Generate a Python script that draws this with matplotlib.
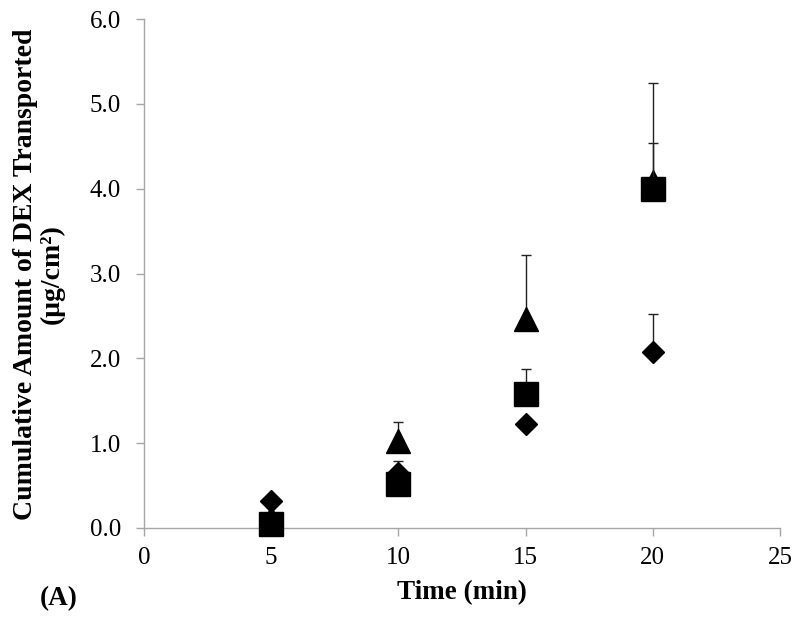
import matplotlib
matplotlib.use("Agg")
import matplotlib.pyplot as plt
import numpy as np

plt.rcParams['font.family'] = ['Liberation Serif', 'DejaVu Serif']

time = [5, 10, 15, 20]
diamond = [0.32, 0.65, 1.23, 2.08]
diamond_err = [0.0, 0.14, 0.0, 0.44]
triangle = [0.12, 1.02, 2.46, 4.08]
triangle_err = [0.0, 0.23, 0.76, 1.16]
square = [0.05, 0.52, 1.58, 4.0]
square_err = [0.0, 0.05, 0.29, 0.54]

xticks = [0, 5, 10, 15, 20, 25]
yticks = [0.0, 1.0, 2.0, 3.0, 4.0, 5.0, 6.0]

fig = plt.figure(figsize=(8, 6.25), dpi=100)
ax = fig.add_axes([0.18, 0.1552, 0.795, 0.8144])

ekw = dict(ls='none', color='black', ecolor='#222222', elinewidth=1.0,
           capsize=3.6, capthick=1.0, clip_on=False)
ax.errorbar(time, diamond, yerr=[np.zeros(4), diamond_err], fmt='D', ms=11.7, zorder=3, **ekw)
ax.errorbar(time, triangle, yerr=[np.zeros(4), triangle_err], fmt='^', ms=16.6, zorder=4, **ekw)
ax.errorbar(time, square, yerr=[np.zeros(4), square_err], fmt='s', ms=16.6, zorder=5, **ekw)

ax.set_xlim(0, 25)
ax.set_ylim(0, 6)
ax.set_xticks(xticks)
ax.set_xticklabels([str(t) for t in xticks])
ax.set_yticks(yticks)
ax.set_yticklabels([f"{v:.1f}" for v in yticks])

for s in ['top', 'right']:
    ax.spines[s].set_visible(False)
for s in ['left', 'bottom']:
    ax.spines[s].set_color('#a6a6a6')
    ax.spines[s].set_linewidth(1.0)
ax.tick_params(axis='both', direction='out', length=6, width=1.0, color='#a6a6a6',
               labelsize=18, labelcolor='black')
ax.tick_params(axis='x', pad=8)
ax.tick_params(axis='y', pad=10.5)

fig.text(462 / 800, 1 - 593 / 625, 'Time (min)', fontsize=19.5, fontweight='bold',
         ha='center', va='center')
fig.text(39 / 800, 1 - 274 / 625, 'Cumulative Amount of DEX Transported\n(\u03bcg/cm\u00b2)',
         fontsize=20, fontweight='bold', rotation=90, ha='center', va='center',
         multialignment='center', linespacing=1.1)
fig.text(0.05, 1 - 599 / 625, '(A)', fontsize=19.5, fontweight='bold', ha='left', va='center')

fig.savefig('out.png', dpi=100)
